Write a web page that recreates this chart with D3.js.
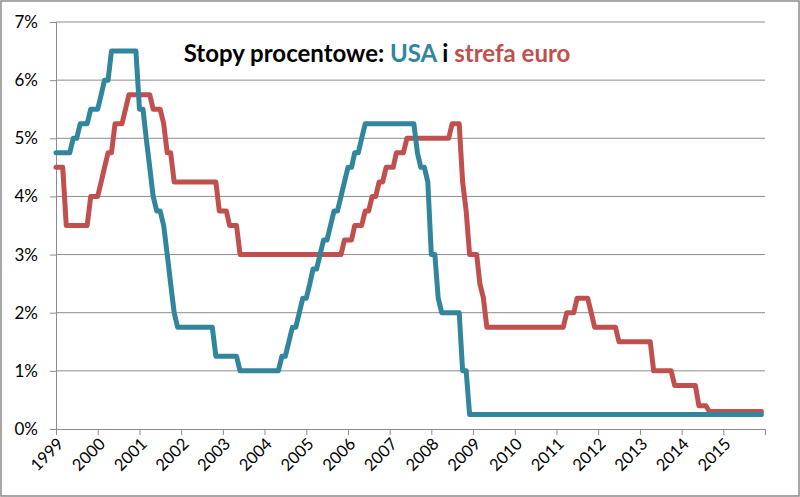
<!DOCTYPE html>
<html>
<head>
<meta charset="utf-8">
<script src="https://cdn.jsdelivr.net/npm/d3@7"></script>
<style>
  body { margin: 0; background: #fff; }
  svg { display: block; }
  text { font-family: Lato, 'Open Sans', sans-serif; }
</style>
</head>
<body>
<div id="chart"></div>
<script>
// monthly rates, one row per year (Jan..Dec)
const years = [1999, 2000, 2001, 2002, 2003, 2004, 2005, 2006, 2007, 2008, 2009, 2010, 2011, 2012, 2013, 2014, 2015];

const usaRate = [
  4.75, 4.75, 4.75, 4.75, 4.75, 5.00, 5.00, 5.25, 5.25, 5.25, 5.50, 5.50,
  5.50, 5.75, 6.00, 6.00, 6.50, 6.50, 6.50, 6.50, 6.50, 6.50, 6.50, 6.50,
  5.50, 5.50, 5.00, 4.50, 4.00, 3.75, 3.75, 3.50, 3.00, 2.50, 2.00, 1.75,
  1.75, 1.75, 1.75, 1.75, 1.75, 1.75, 1.75, 1.75, 1.75, 1.75, 1.25, 1.25,
  1.25, 1.25, 1.25, 1.25, 1.25, 1.00, 1.00, 1.00, 1.00, 1.00, 1.00, 1.00,
  1.00, 1.00, 1.00, 1.00, 1.00, 1.25, 1.25, 1.50, 1.75, 1.75, 2.00, 2.25,
  2.25, 2.50, 2.75, 2.75, 3.00, 3.25, 3.25, 3.50, 3.75, 3.75, 4.00, 4.25,
  4.50, 4.50, 4.75, 4.75, 5.00, 5.25, 5.25, 5.25, 5.25, 5.25, 5.25, 5.25,
  5.25, 5.25, 5.25, 5.25, 5.25, 5.25, 5.25, 5.25, 4.75, 4.50, 4.50, 4.25,
  3.00, 3.00, 2.25, 2.00, 2.00, 2.00, 2.00, 2.00, 2.00, 1.00, 1.00, 0.25,
  0.25, 0.25, 0.25, 0.25, 0.25, 0.25, 0.25, 0.25, 0.25, 0.25, 0.25, 0.25,
  0.25, 0.25, 0.25, 0.25, 0.25, 0.25, 0.25, 0.25, 0.25, 0.25, 0.25, 0.25,
  0.25, 0.25, 0.25, 0.25, 0.25, 0.25, 0.25, 0.25, 0.25, 0.25, 0.25, 0.25,
  0.25, 0.25, 0.25, 0.25, 0.25, 0.25, 0.25, 0.25, 0.25, 0.25, 0.25, 0.25,
  0.25, 0.25, 0.25, 0.25, 0.25, 0.25, 0.25, 0.25, 0.25, 0.25, 0.25, 0.25,
  0.25, 0.25, 0.25, 0.25, 0.25, 0.25, 0.25, 0.25, 0.25, 0.25, 0.25, 0.25,
  0.25, 0.25, 0.25, 0.25, 0.25, 0.25, 0.25, 0.25, 0.25, 0.25, 0.25, 0.25
];

const euroRate = [
  4.50, 4.50, 4.50, 3.50, 3.50, 3.50, 3.50, 3.50, 3.50, 3.50, 4.00, 4.00,
  4.00, 4.25, 4.50, 4.75, 4.75, 5.25, 5.25, 5.25, 5.50, 5.75, 5.75, 5.75,
  5.75, 5.75, 5.75, 5.75, 5.50, 5.50, 5.50, 5.25, 4.75, 4.75, 4.25, 4.25,
  4.25, 4.25, 4.25, 4.25, 4.25, 4.25, 4.25, 4.25, 4.25, 4.25, 4.25, 3.75,
  3.75, 3.75, 3.50, 3.50, 3.50, 3.00, 3.00, 3.00, 3.00, 3.00, 3.00, 3.00,
  3.00, 3.00, 3.00, 3.00, 3.00, 3.00, 3.00, 3.00, 3.00, 3.00, 3.00, 3.00,
  3.00, 3.00, 3.00, 3.00, 3.00, 3.00, 3.00, 3.00, 3.00, 3.00, 3.00, 3.25,
  3.25, 3.25, 3.50, 3.50, 3.50, 3.75, 3.75, 4.00, 4.00, 4.25, 4.25, 4.50,
  4.50, 4.50, 4.75, 4.75, 4.75, 5.00, 5.00, 5.00, 5.00, 5.00, 5.00, 5.00,
  5.00, 5.00, 5.00, 5.00, 5.00, 5.00, 5.25, 5.25, 5.25, 4.25, 3.75, 3.00,
  3.00, 3.00, 2.50, 2.25, 1.75, 1.75, 1.75, 1.75, 1.75, 1.75, 1.75, 1.75,
  1.75, 1.75, 1.75, 1.75, 1.75, 1.75, 1.75, 1.75, 1.75, 1.75, 1.75, 1.75,
  1.75, 1.75, 1.75, 2.00, 2.00, 2.00, 2.25, 2.25, 2.25, 2.25, 2.00, 1.75,
  1.75, 1.75, 1.75, 1.75, 1.75, 1.75, 1.50, 1.50, 1.50, 1.50, 1.50, 1.50,
  1.50, 1.50, 1.50, 1.50, 1.00, 1.00, 1.00, 1.00, 1.00, 1.00, 0.75, 0.75,
  0.75, 0.75, 0.75, 0.75, 0.75, 0.40, 0.40, 0.40, 0.30, 0.30, 0.30, 0.30,
  0.30, 0.30, 0.30, 0.30, 0.30, 0.30, 0.30, 0.30, 0.30, 0.30, 0.30, 0.30
];

const yTicks = [0, 1, 2, 3, 4, 5, 6, 7];

const width = 800;
const height = 497;
const margin = {top: 22, right: 35, bottom: 68, left: 56};
const usaColor = '#31859C';
const euroColor = '#C0504D';
const gridColor = '#8c8c8c';

// one date per monthly value
const months = [];
years.forEach(function(y) {
    for (let m = 0; m < 12; m++) months.push(new Date(y, m, 1));
});

const svg = d3.select('#chart')
    .append('svg')
    .attr('width', width)
    .attr('height', height);

svg.append('rect')
    .attr('x', 1)
    .attr('y', 1)
    .attr('width', width - 2)
    .attr('height', height - 2)
    .attr('fill', '#fff')
    .attr('stroke', '#8a8a8a')
    .attr('stroke-width', 1.5);

const xScale = d3.scaleTime()
    .domain([new Date(years[0], 0, 1), new Date(years[years.length - 1] + 1, 0, 1)])
    .range([margin.left, width - margin.right]);

const yScale = d3.scaleLinear()
    .domain([0, 7])
    .range([height - margin.bottom, margin.top]);

// horizontal gridlines
svg.append('g')
    .selectAll('line')
    .data(yTicks.slice(1))
    .enter()
    .append('line')
    .attr('x1', margin.left)
    .attr('x2', width - margin.right)
    .attr('y1', d => yScale(d))
    .attr('y2', d => yScale(d))
    .attr('stroke', gridColor)
    .attr('stroke-width', 1);

const yAxis = d3.axisLeft(yScale)
    .tickValues(yTicks)
    .tickFormat(d => d + '%')
    .tickSize(6)
    .tickPadding(12);

const yG = svg.append('g')
    .attr('transform', 'translate(' + margin.left + ',0)')
    .call(yAxis);
yG.selectAll('path, line').attr('stroke', gridColor);
yG.selectAll('text')
    .attr('fill', '#000')
    .style('font-size', '17px');

const xAxis = d3.axisBottom(xScale)
    .tickValues(d3.timeYear.range(xScale.domain()[0], d3.timeYear.offset(xScale.domain()[1], 1)))
    .tickFormat(d => d.getFullYear() <= years[years.length - 1] ? d.getFullYear() : '')
    .tickSize(6)
    .tickSizeOuter(0);

const xG = svg.append('g')
    .attr('transform', 'translate(0,' + (height - margin.bottom) + ')')
    .call(xAxis);
xG.selectAll('path, line').attr('stroke', gridColor);
xG.selectAll('text')
    .attr('x', 0)
    .attr('y', 0)
    .attr('dy', 0)
    .attr('transform', 'translate(8,16) rotate(-45)')
    .style('text-anchor', 'end')
    .attr('fill', '#000')
    .style('font-size', '16.5px');

const line = d3.line()
    .x((d, i) => xScale(months[i]))
    .y(d => yScale(d));

svg.append('path')
    .datum(euroRate)
    .attr('d', line)
    .attr('fill', 'none')
    .attr('stroke', euroColor)
    .attr('stroke-width', 5)
    .attr('stroke-linejoin', 'round')
    .attr('stroke-linecap', 'round');

svg.append('path')
    .datum(usaRate)
    .attr('d', line)
    .attr('fill', 'none')
    .attr('stroke', usaColor)
    .attr('stroke-width', 5)
    .attr('stroke-linejoin', 'round')
    .attr('stroke-linecap', 'round');

// title
const title = svg.append('text')
    .attr('x', 377)
    .attr('y', 62)
    .attr('text-anchor', 'middle')
    .style('font-size', '24px')
    .style('font-weight', 'bold');
title.append('tspan').attr('fill', '#000').text('Stopy procentowe: ');
title.append('tspan').attr('fill', usaColor).text('USA');
title.append('tspan').attr('fill', '#000').text(' i ');
title.append('tspan').attr('fill', euroColor).text('strefa euro');
</script>
</body>
</html>
